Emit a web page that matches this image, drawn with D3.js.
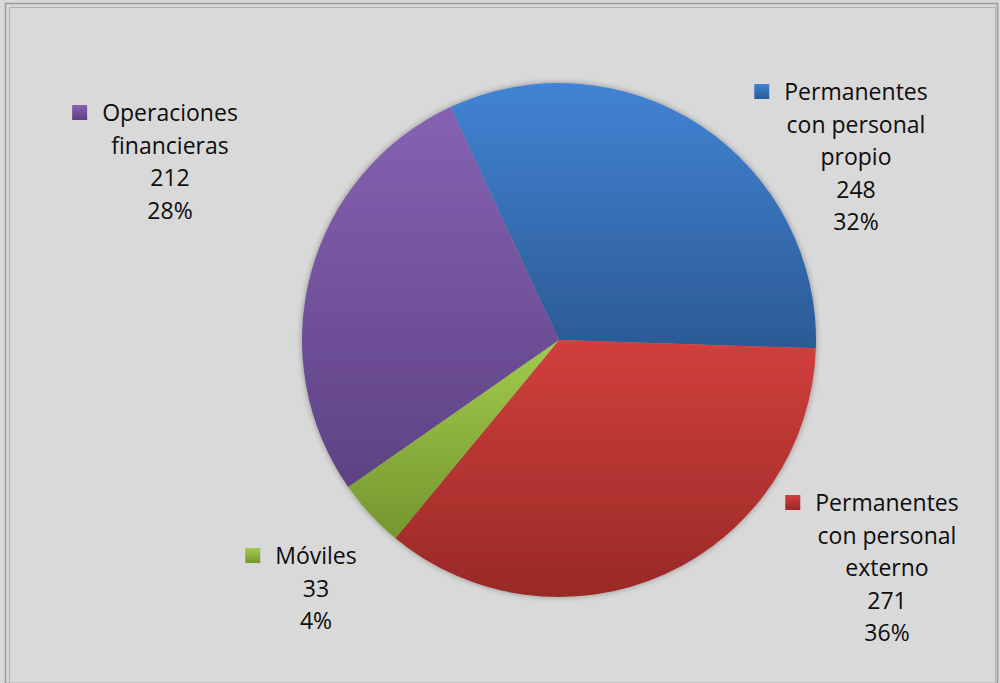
<!DOCTYPE html>
<meta charset="utf-8">
<head>
	<script src="https://cdn.jsdelivr.net/npm/d3@7"></script>
	<style>
		body { margin: 0; background: #fff; }
		text { font-family: "Open Sans", Lato, sans-serif; font-size: 23px; fill: #0d0d0d; }
	</style>
</head>
<body>
	<div id="chart"></div>
</body>
<script type="text/javascript">
	// data
	var categories = ["Permanentes con personal propio", "Permanentes con personal externo", "Móviles", "Operaciones financieras"];
	var labelLines = [["Permanentes", "con personal", "propio"], ["Permanentes", "con personal", "externo"], ["Móviles"], ["Operaciones", "financieras"]];
	var values = [248, 271, 33, 212];
	var percents = ["32%", "36%", "4%", "28%"];

	// styling / layout
	var topColors = ["#4283d4", "#d13f3d", "#a2cc4c", "#8662b3"];
	var bottomColors = ["#2b5a95", "#992927", "#74962e", "#5d4283"];
	var labelPos = [[856, 100], [887, 511], [316, 564], [170, 121]];
	var lineH = 32.5;

	var W = 1000, H = 683;
	var cx = 559, cy = 340, r = 257;

	var svg = d3.select("#chart").append("svg")
		.attr("width", W)
		.attr("height", H);

	var defs = svg.append("defs");

	var shadow = defs.append("filter").attr("id", "glow")
		.attr("x", "-10%").attr("y", "-10%").attr("width", "120%").attr("height", "120%");
	shadow.append("feGaussianBlur").attr("in", "SourceAlpha").attr("stdDeviation", 3);
	shadow.append("feComponentTransfer").append("feFuncA").attr("type", "linear").attr("slope", 0.35);
	var merge = shadow.append("feMerge");
	merge.append("feMergeNode");
	merge.append("feMergeNode").attr("in", "SourceGraphic");

	categories.forEach(function(c, i) {
		var g = defs.append("linearGradient").attr("id", "grad" + i)
			.attr("x1", 0).attr("y1", 0).attr("x2", 0).attr("y2", 1);
		g.append("stop").attr("offset", "0%").attr("stop-color", topColors[i]);
		g.append("stop").attr("offset", "100%").attr("stop-color", bottomColors[i]);
	});

	// background frame
	svg.append("rect")
		.attr("x", 0).attr("y", 0).attr("width", W).attr("height", H)
		.style("fill", "#d9d9d9");
	svg.append("rect")
		.attr("x", 5.5).attr("y", 3.5).attr("width", W - 8).attr("height", H - 3)
		.style("fill", "none").style("stroke", "#9a9a9a").style("stroke-width", 1.5);
	svg.append("rect")
		.attr("x", 9.5).attr("y", 7.5).attr("width", W - 14).attr("height", H - 7)
		.style("fill", "none").style("stroke", "#b0b0b0").style("stroke-width", 1);

	var start = -25 * Math.PI / 180;
	var pie = d3.pie().sort(null).startAngle(start).endAngle(start + 2 * Math.PI);
	var arc = d3.arc().innerRadius(0).outerRadius(r);

	var slices = svg.append("g")
		.attr("transform", "translate(" + cx + "," + cy + ")")
		.attr("filter", "url(#glow)");

	slices.selectAll("path")
		.data(pie(values))
		.enter().append("path")
		.attr("d", arc)
		.style("fill", function(d, i) { return "url(#grad" + i + ")"; });

	// labels
	var labels = svg.append("g").selectAll("g")
		.data(categories)
		.enter().append("g")
		.attr("transform", function(d, i) { return "translate(" + labelPos[i][0] + "," + labelPos[i][1] + ")"; });

	labels.each(function(d, i) {
		var g = d3.select(this);
		var lines = labelLines[i].concat([String(values[i]), percents[i]]);
		var t = g.append("text").style("text-anchor", "middle");
		lines.forEach(function(l, j) {
			t.append("tspan").attr("x", 0).attr("y", j * lineH).text(l);
		});
		var w = t.select("tspan").node().getComputedTextLength();
		g.append("rect")
			.attr("x", -w / 2 - 30).attr("y", -16)
			.attr("width", 15).attr("height", 15)
			.style("fill", "url(#grad" + i + ")");
	});
</script>
